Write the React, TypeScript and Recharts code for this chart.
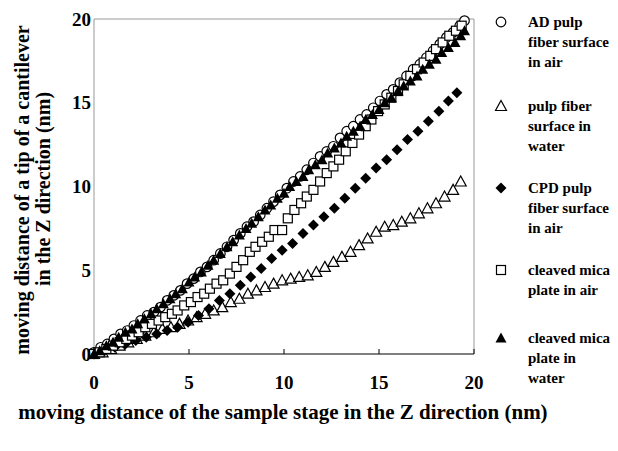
import React from "react";
import { ScatterChart, Scatter, XAxis, YAxis, ReferenceLine, Legend } from "recharts";

const xTicks = [0, 5, 10, 15, 20];
const yTicks = [0, 5, 10, 15, 20];

// AD pulp fiber surface in air (open circles)
const adAirX = [0, 0.35, 0.7, 1.05, 1.4, 1.75, 2.1, 2.45, 2.8, 3.15, 3.5, 3.85, 4.2, 4.55, 4.9, 5.25, 5.6, 5.95, 6.3, 6.65, 7.0, 7.35, 7.7, 8.05, 8.4, 8.75, 9.1, 9.45, 9.8, 10.15, 10.5, 10.85, 11.2, 11.55, 11.9, 12.25, 12.6, 12.95, 13.3, 13.65, 14.0, 14.35, 14.7, 15.05, 15.4, 15.75, 16.1, 16.45, 16.8, 17.15, 17.5, 17.85, 18.2, 18.55, 18.9, 19.25, 19.5];
const adAirY = [0.1, 0.4, 0.6, 0.9, 1.2, 1.4, 1.7, 2.0, 2.3, 2.5, 2.8, 3.2, 3.5, 3.8, 4.2, 4.5, 4.9, 5.2, 5.6, 6.0, 6.4, 6.8, 7.2, 7.6, 7.9, 8.3, 8.7, 9.1, 9.5, 9.9, 10.3, 10.6, 11.0, 11.4, 11.8, 12.1, 12.4, 12.9, 13.3, 13.6, 14.0, 14.3, 14.7, 15.1, 15.5, 15.8, 16.2, 16.6, 17.0, 17.3, 17.7, 18.1, 18.5, 18.9, 19.2, 19.6, 19.9];

// pulp fiber surface in water (open triangles)
const pulpWaterX = [0, 0.45, 0.9, 1.35, 1.8, 2.25, 2.7, 3.15, 3.6, 4.05, 4.5, 4.95, 5.4, 5.85, 6.3, 6.75, 7.2, 7.65, 8.1, 8.55, 9.0, 9.45, 9.9, 10.35, 10.8, 11.25, 11.7, 12.15, 12.6, 13.05, 13.5, 13.95, 14.4, 14.85, 15.3, 15.75, 16.2, 16.65, 17.1, 17.55, 18.0, 18.45, 18.9, 19.3];
const pulpWaterY = [0, 0.1, 0.3, 0.5, 0.7, 0.9, 1.1, 1.3, 1.5, 1.6, 1.8, 2.0, 2.2, 2.4, 2.6, 2.8, 3.1, 3.3, 3.6, 3.8, 4.0, 4.2, 4.4, 4.5, 4.6, 4.7, 4.9, 5.2, 5.5, 5.8, 6.1, 6.5, 6.9, 7.3, 7.6, 7.7, 7.9, 8.1, 8.4, 8.7, 9.0, 9.4, 9.8, 10.3];

// CPD pulp fiber surface in air (filled diamonds)
const cpdAirX = [0, 0.55, 1.1, 1.65, 2.2, 2.75, 3.3, 3.85, 4.4, 4.95, 5.5, 6.05, 6.6, 7.15, 7.7, 8.25, 8.8, 9.35, 9.9, 10.45, 11.0, 11.55, 12.1, 12.65, 13.2, 13.75, 14.3, 14.85, 15.4, 15.95, 16.5, 17.05, 17.6, 18.15, 18.65, 19.1];
const cpdAirY = [0, 0.2, 0.4, 0.6, 0.8, 1.0, 1.2, 1.4, 1.6, 1.9, 2.3, 2.7, 3.2, 3.6, 4.1, 4.6, 5.1, 5.7, 6.2, 6.6, 7.2, 7.7, 8.2, 8.7, 9.3, 9.9, 10.5, 11.1, 11.6, 12.2, 12.8, 13.3, 13.9, 14.5, 15.1, 15.6];

// cleaved mica plate in air (open squares)
const micaAirX = [0, 0.3, 0.65, 1.0, 1.35, 1.7, 2.0, 2.35, 2.7, 3.05, 3.4, 3.75, 4.1, 4.4, 4.75, 5.1, 5.45, 5.8, 6.1, 6.45, 6.8, 7.15, 7.5, 7.85, 8.2, 8.5, 8.85, 9.2, 9.5, 9.9, 10.2, 10.55, 10.9, 11.2, 11.55, 11.9, 12.25, 12.6, 12.9, 13.25, 13.6, 13.95, 14.3, 14.6, 14.95, 15.3, 15.65, 16.0, 16.3, 16.65, 17.0, 17.35, 17.7, 18.0, 18.35, 18.7, 19.05, 19.35];
const micaAirY = [0, 0.1, 0.3, 0.5, 0.7, 0.9, 1.1, 1.3, 1.6, 1.8, 2.0, 2.2, 2.4, 2.6, 2.9, 3.1, 3.4, 3.6, 3.9, 4.2, 4.4, 4.8, 5.2, 5.6, 6.1, 6.4, 6.7, 7.0, 7.4, 7.4, 8.1, 8.6, 9.0, 9.4, 9.8, 10.3, 10.8, 11.2, 11.6, 12.1, 12.6, 13.1, 13.6, 14.0, 14.5, 14.9, 15.3, 15.7, 16.1, 16.6, 17.0, 17.4, 17.8, 18.2, 18.6, 19.0, 19.3, 19.6];

// cleaved mica plate in water (filled triangles)
const micaWaterX = [0, 0.3, 0.65, 1.0, 1.3, 1.65, 2.0, 2.3, 2.65, 3.0, 3.3, 3.65, 4.0, 4.3, 4.65, 5.0, 5.3, 5.65, 6.0, 6.3, 6.65, 7.0, 7.3, 7.65, 8.0, 8.3, 8.65, 9.0, 9.3, 9.65, 10.0, 10.3, 10.65, 11.0, 11.3, 11.65, 12.0, 12.3, 12.65, 13.0, 13.3, 13.65, 14.0, 14.3, 14.65, 15.0, 15.3, 15.65, 16.0, 16.3, 16.65, 17.0, 17.3, 17.65, 18.0, 18.3, 18.65, 19.0, 19.3, 19.5];
const micaWaterY = [0, 0.2, 0.5, 0.7, 1.0, 1.3, 1.5, 1.8, 2.1, 2.4, 2.7, 3.0, 3.3, 3.6, 3.9, 4.3, 4.6, 4.9, 5.3, 5.6, 6.0, 6.4, 6.7, 7.1, 7.5, 7.8, 8.2, 8.6, 8.9, 9.3, 9.6, 10.0, 10.3, 10.6, 11.0, 11.3, 11.6, 12.0, 12.3, 12.6, 13.0, 13.3, 13.6, 14.0, 14.3, 14.6, 15.0, 15.3, 15.7, 16.0, 16.3, 16.6, 17.0, 17.3, 17.6, 18.0, 18.3, 18.6, 19.0, 19.3];

const FONT = '"Liberation Serif", "Times New Roman", serif';

const toPoints = (xs: number[], ys: number[]) => xs.map((x, i) => ({ x, y: ys[i] }));

const OpenCircle = ({ cx, cy }: any) => (
  <circle cx={cx} cy={cy} r={4.8} fill="#fff" stroke="#000" strokeWidth={1.2} />
);
const OpenTriangle = ({ cx, cy }: any) => (
  <path d={`M${cx},${cy - 5.5}L${cx + 5.5},${cy + 4.5}L${cx - 5.5},${cy + 4.5}Z`} fill="#fff" stroke="#000" strokeWidth={1.2} />
);
const FilledDiamond = ({ cx, cy }: any) => (
  <path d={`M${cx},${cy - 5.5}L${cx + 5.5},${cy}L${cx},${cy + 5.5}L${cx - 5.5},${cy}Z`} fill="#000" />
);
const OpenSquare = ({ cx, cy }: any) => (
  <rect x={cx - 4.5} y={cy - 4.5} width={9} height={9} fill="#fff" stroke="#000" strokeWidth={1.2} />
);
const FilledTriangle = ({ cx, cy }: any) => (
  <path d={`M${cx},${cy - 5.5}L${cx + 5.5},${cy + 4.5}L${cx - 5.5},${cy + 4.5}Z`} fill="#000" />
);

const legendItems = [
  { lines: ["AD pulp", "fiber surface", "in air"], top: 22, Marker: OpenCircle },
  { lines: ["pulp fiber", "surface in", "water"], top: 106, Marker: OpenTriangle },
  { lines: ["CPD pulp", "fiber surface", "in air"], top: 188, Marker: FilledDiamond },
  { lines: ["cleaved mica", "plate in air"], top: 270, Marker: OpenSquare },
  { lines: ["cleaved mica", "plate in", "water"], top: 338, Marker: FilledTriangle },
];

const renderLegend = () => (
  <svg width={128} height={451} style={{ display: "block" }}>
    {legendItems.map((item, i) => (
      <g key={i}>
        <item.Marker cx={11} cy={item.top} />
        {item.lines.map((line, j) => (
          <text key={j} x={38} y={item.top + 5 + j * 20} fontSize={15} fontWeight="bold" fontFamily={FONT} fill="#000">
            {line}
          </text>
        ))}
      </g>
    ))}
  </svg>
);

const XTick = ({ x, y, payload }: any) => (
  <g>
    {payload.value !== 0 && <line x1={x} x2={x} y1={y} y2={y - 5} stroke="#000" />}
    <text x={x} y={y + 35} textAnchor="middle" fontSize={19} fontWeight="bold" fontFamily={FONT} fill="#000">
      {payload.value}
    </text>
  </g>
);

const XLabel = () => (
  <text x={283} y={419} textAnchor="middle" fontSize={21} fontWeight="bold" fontFamily={FONT} fill="#000">
    moving distance of the sample stage in the Z direction (nm)
  </text>
);

const YLabel = () => (
  <g fontSize={20} fontWeight="bold" fontFamily={FONT} fill="#000">
    <text transform="translate(29,190) rotate(-90)" textAnchor="middle">
      moving distance of a tip of a cantilever
    </text>
    <text transform="translate(50,189) rotate(-90)" textAnchor="middle">
      in the Z direction (nm)
    </text>
  </g>
);

export default function App() {
  return (
    <div style={{ position: "absolute", left: 0, top: 0, width: 618, height: 451, background: "#fff" }}>
      <ScatterChart width={618} height={451} margin={{ top: 19, right: 144, bottom: 67, left: 0 }}>
        <XAxis
          type="number"
          dataKey="x"
          domain={[0, 20]}
          ticks={xTicks}
          interval={0}
          height={30}
          tickSize={0}
          tickMargin={0}
          tickLine={false}
          axisLine={{ stroke: "#000" }}
          tick={<XTick />}
          label={{ content: () => <XLabel /> }}
        />
        <YAxis
          type="number"
          dataKey="y"
          domain={[0, 20]}
          ticks={yTicks}
          interval={0}
          width={94}
          tickSize={0}
          tickMargin={3}
          tickLine={false}
          axisLine={{ stroke: "#999" }}
          tick={{ fontSize: 19, fontWeight: "bold", fill: "#000", fontFamily: FONT }}
          label={{ content: () => <YLabel /> }}
        />
        <ReferenceLine y={20} stroke="#999" />
        <ReferenceLine x={20} stroke="#999" />
        <Legend
          layout="vertical"
          align="center"
          verticalAlign="middle"
          content={renderLegend}
          wrapperStyle={{ left: 490, top: 0, width: 128, height: 451 }}
        />
        <Scatter name="AD pulp fiber surface in air" data={toPoints(adAirX, adAirY)} shape={OpenCircle} isAnimationActive={false} />
        <Scatter name="pulp fiber surface in water" data={toPoints(pulpWaterX, pulpWaterY)} shape={OpenTriangle} isAnimationActive={false} />
        <Scatter name="CPD pulp fiber surface in air" data={toPoints(cpdAirX, cpdAirY)} shape={FilledDiamond} isAnimationActive={false} />
        <Scatter name="cleaved mica plate in air" data={toPoints(micaAirX, micaAirY)} shape={OpenSquare} isAnimationActive={false} />
        <Scatter name="cleaved mica plate in water" data={toPoints(micaWaterX, micaWaterY)} shape={FilledTriangle} isAnimationActive={false} />
      </ScatterChart>
    </div>
  );
}
